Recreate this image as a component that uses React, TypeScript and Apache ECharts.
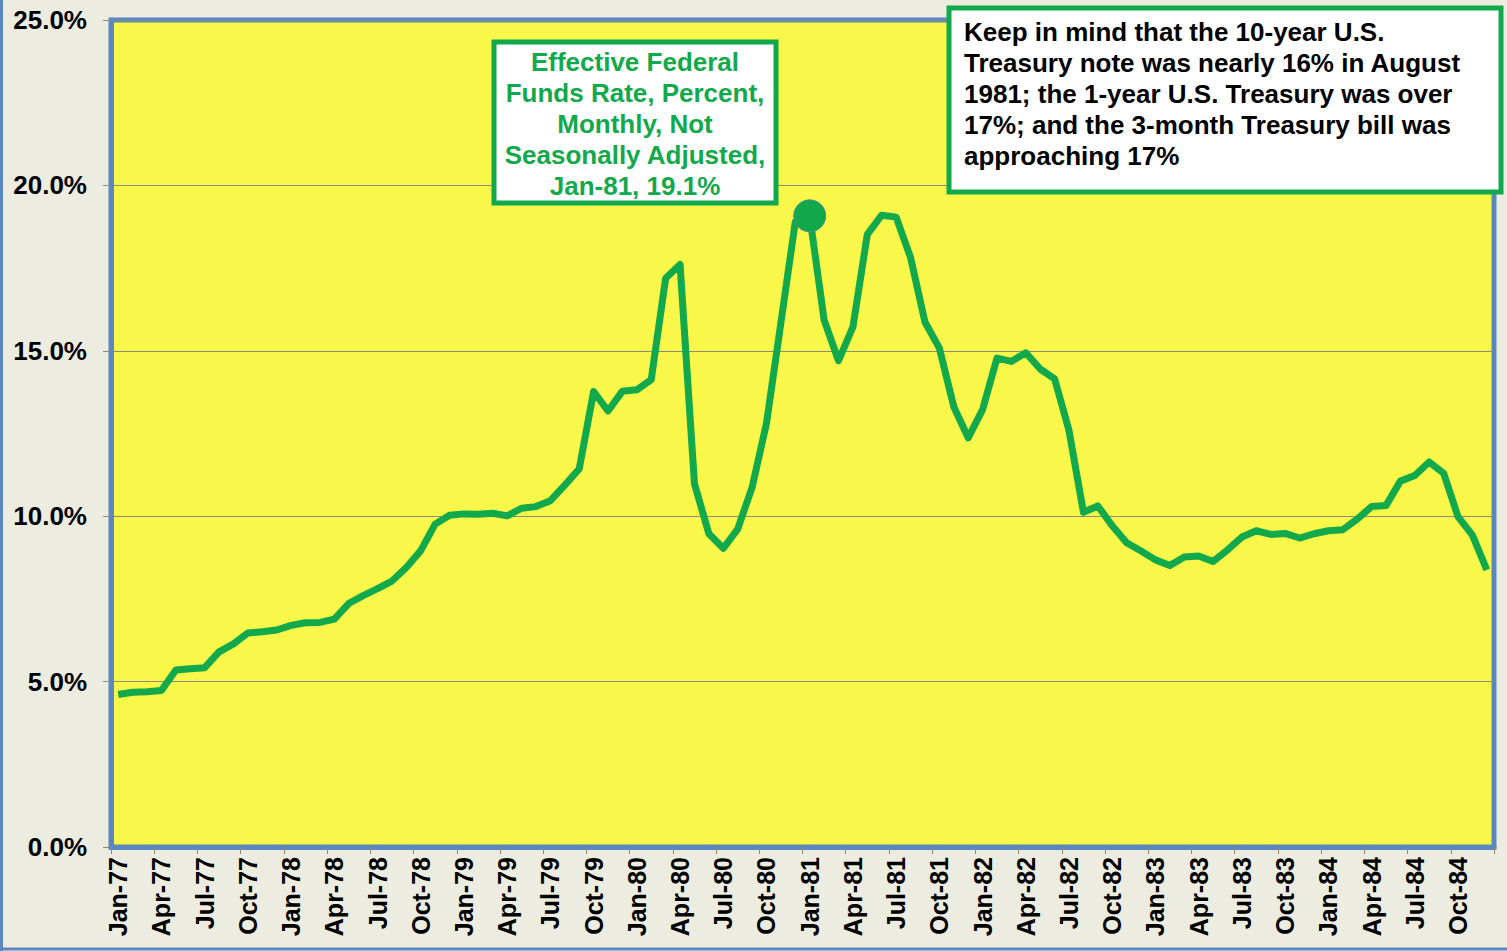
import React, { useEffect, useRef } from "react";
import * as echarts from "echarts";

const months = ["Jan", "Feb", "Mar", "Apr", "May", "Jun", "Jul", "Aug", "Sep", "Oct", "Nov", "Dec"];
const years = ["77", "78", "79", "80", "81", "82", "83", "84"];
const categories: string[] = [];
years.forEach((y) => months.forEach((m) => categories.push(`${m}-${y}`)));

const rate1977 = [4.61, 4.68, 4.69, 4.73, 5.35, 5.39, 5.42, 5.90, 6.14, 6.47, 6.51, 6.56];
const rate1978 = [6.70, 6.78, 6.79, 6.89, 7.36, 7.60, 7.81, 8.04, 8.45, 8.96, 9.76, 10.03];
const rate1979 = [10.07, 10.06, 10.09, 10.01, 10.24, 10.29, 10.47, 10.94, 11.43, 13.77, 13.18, 13.78];
const rate1980 = [13.82, 14.13, 17.19, 17.61, 10.98, 9.47, 9.03, 9.61, 10.87, 12.81, 15.85, 18.90];
const rate1981 = [19.08, 15.93, 14.70, 15.72, 18.52, 19.10, 19.04, 17.82, 15.87, 15.08, 13.31, 12.37];
const rate1982 = [13.22, 14.78, 14.68, 14.94, 14.45, 14.15, 12.59, 10.12, 10.31, 9.71, 9.20, 8.95];
const rate1983 = [8.68, 8.51, 8.77, 8.80, 8.63, 8.98, 9.37, 9.56, 9.45, 9.48, 9.34, 9.47];
const rate1984 = [9.56, 9.59, 9.91, 10.29, 10.32, 11.06, 11.23, 11.64, 11.30, 9.99, 9.43, 8.38];
const fedFunds = [...rate1977, ...rate1978, ...rate1979, ...rate1980, ...rate1981, ...rate1982, ...rate1983, ...rate1984];

const highlightIndex = 48; // Jan-81
const yTicks = [0, 5, 10, 15, 20, 25];

const calloutLines = [
  "Effective Federal",
  "Funds Rate, Percent,",
  "Monthly, Not",
  "Seasonally Adjusted,",
  "Jan-81, 19.1%",
];
const noteLines = [
  "Keep in mind that the 10-year U.S.",
  "Treasury note was nearly 16% in August",
  "1981; the 1-year U.S. Treasury was over",
  "17%; and the 3-month Treasury bill was",
  "approaching 17%",
];

const GREEN = "#12a84c";
const BLUE = "#5b87c0";
const FONT = "'Liberation Sans', Arial, sans-serif";

export default function App() {
  const ref = useRef<HTMLDivElement>(null);
  useEffect(() => {
    if (!ref.current) return;
    const chart = echarts.init(ref.current, null, { renderer: "svg" });
    chart.setOption({
      animation: false,
      backgroundColor: "#ecece0",
      grid: {
        left: 111,
        right: 13,
        top: 20,
        bottom: 104,
        show: true,
        backgroundColor: "#f9f84a",
        borderColor: BLUE,
        borderWidth: 5,
        containLabel: false,
      },
      xAxis: {
        type: "category",
        data: categories,
        boundaryGap: true,
        axisLine: { show: true, lineStyle: { color: BLUE, width: 5 } },
        axisTick: { show: true, interval: 2, length: 7, lineStyle: { color: "#8a8a80", width: 1 } },
        axisLabel: {
          interval: 2,
          rotate: 90,
          margin: 10,
          color: "#000",
          fontFamily: FONT,
          fontWeight: "bold",
          fontSize: 25,
        },
        splitLine: { show: false },
      },
      yAxis: {
        type: "value",
        min: 0,
        max: 25,
        interval: 5,
        axisLine: { show: true, lineStyle: { color: BLUE, width: 5 } },
        axisTick: { show: true, length: 8, lineStyle: { color: "#8a8a80", width: 1 } },
        axisLabel: {
          formatter: (v: number) => (yTicks.includes(v) ? v.toFixed(1) + "%" : ""),
          color: "#000",
          fontFamily: FONT,
          fontWeight: "bold",
          fontSize: 26,
          margin: 24,
        },
        splitLine: { show: true, lineStyle: { color: "#8c8c78", width: 1 } },
      },
      series: [
        {
          type: "line",
          data: fedFunds,
          showSymbol: false,
          symbol: "none",
          lineStyle: { color: GREEN, width: 7, join: "round" },
          z: 3,
        },
        {
          type: "scatter",
          data: [[highlightIndex, fedFunds[highlightIndex]]],
          symbolSize: 32,
          itemStyle: { color: GREEN, opacity: 1, borderColor: "#4a8c8c", borderWidth: 1 },
          z: 4,
        },
      ],
      graphic: {
        z: 100,
        elements: [
          { type: "line", z: 100, shape: { x1: 1.5, y1: 0, x2: 1.5, y2: 951 }, style: { stroke: BLUE, lineWidth: 3 } },
          { type: "line", z: 100, shape: { x1: 0, y1: 949, x2: 1507, y2: 949 }, style: { stroke: BLUE, lineWidth: 3 } },
          {
            type: "rect",
            z: 100,
            shape: { x: 494, y: 42, width: 282, height: 161 },
            style: { fill: "#ffffff", stroke: GREEN, lineWidth: 5 },
          },
          {
            type: "text",
            z: 101,
            x: 635,
            y: 124,
            style: {
              text: calloutLines.join("\n"),
              fill: GREEN,
              font: `bold 26px ${FONT}`,
              lineHeight: 31,
              align: "center",
              verticalAlign: "middle",
            },
          },
          {
            type: "rect",
            z: 100,
            shape: { x: 949, y: 8, width: 552, height: 184 },
            style: { fill: "#ffffff", stroke: GREEN, lineWidth: 5 },
          },
          {
            type: "text",
            z: 101,
            x: 964,
            y: 16,
            style: {
              text: noteLines.join("\n"),
              fill: "#000000",
              font: `bold 26px ${FONT}`,
              lineHeight: 31,
              align: "left",
              verticalAlign: "top",
            },
          },
        ],
      },
    });
    return () => chart.dispose();
  }, []);
  return <div ref={ref} style={{ position: "fixed", left: 0, top: 0, width: 1507, height: 951 }} />;
}
